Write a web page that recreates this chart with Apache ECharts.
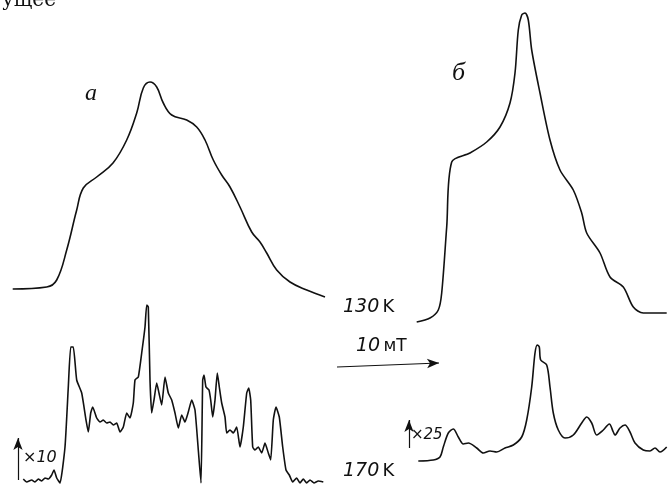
<!DOCTYPE html>
<html>
<head>
<meta charset="utf-8">
<script src="https://cdn.jsdelivr.net/npm/echarts@6/dist/echarts.min.js"></script>
<style>
  html, body { margin: 0; padding: 0; background: #fff; }
  #chart { width: 669px; height: 487px; }
</style>
</head>
<body>
<div id="chart"></div>
<script>
// поле, мТ; сигнал, отн. ед.
// а, 130 K
const fieldA130 = [1.27, 4.67, 5.67, 6.67, 7.67, 8.33, 9.67, 11.3, 12.67, 13.67, 14.33, 15.0, 15.67, 16.33, 17.17, 18.67, 19.67, 20.5, 21.33, 22.17, 23.0, 24.0, 25.17, 26.0, 26.67, 27.67, 29.0, 30.67, 32.5];
const sigA130 = [1, 3, 10, 40, 80, 102, 113, 127, 150, 177, 202, 208, 203, 187, 175, 170, 163, 150, 130, 115, 103, 83, 58, 48, 37, 20, 8, 0, -7];

// б, 130 K
const fieldB130 = [41.67, 43.0, 43.83, 44.17, 44.67, 45.17, 47.0, 48.67, 50.0, 51.0, 51.5, 51.83, 52.17, 52.5, 52.83, 53.17, 54.0, 55.0, 56.0, 57.33, 58.17, 58.67, 60.0, 61.0, 62.33, 63.33, 64.33, 66.67];
const sigB130 = [-9, -5, 3, 20, 86, 151, 160, 171, 186, 210, 240, 283, 298, 300, 293, 263, 220, 173, 143, 123, 100, 80, 60, 36, 26, 6, 0, 0];

// а, 170 K (x10)
const fieldA170 = [2.33, 2.67, 3.17, 3.5, 3.83, 4.17, 4.5, 4.83, 5.17, 5.4, 5.67, 6.0, 6.5, 6.83, 7.07, 7.33, 7.67, 8.17, 8.6, 8.83, 9.07, 9.27, 9.67, 10.0, 10.33, 10.67, 11.0, 11.33, 11.67, 12.0, 12.33, 12.67, 13.0, 13.33, 13.5, 13.83, 14.17, 14.5, 14.67, 14.83, 15.0, 15.17, 15.4, 15.67, 15.9, 16.17, 16.5, 16.83, 17.17, 17.5, 17.83, 18.17, 18.5, 18.83, 19.17, 19.5, 19.83, 20.1, 20.27, 20.4, 20.6, 20.9, 21.07, 21.27, 21.5, 21.73, 21.93, 22.17, 22.5, 22.67, 23.0, 23.33, 23.67, 24.0, 24.33, 24.67, 24.87, 25.07, 25.27, 25.5, 25.83, 26.17, 26.5, 26.83, 27.07, 27.33, 27.6, 27.93, 28.27, 28.6, 28.93, 29.27, 29.67, 30.0, 30.33, 30.67, 31.0, 31.4, 31.83, 32.33];
const sigA170 = [2, -1, 1, -1, 2, 0, 3, 2, 6, 11, 3, -2, 34, 94, 134, 134, 101, 88, 61, 49, 68, 74, 63, 59, 61, 58, 59, 56, 58, 49, 54, 68, 63, 78, 101, 104, 128, 154, 176, 174, 101, 68, 81, 98, 88, 76, 104, 88, 81, 68, 53, 66, 59, 69, 81, 71, 31, -2, 101, 106, 94, 91, 81, 64, 81, 108, 94, 78, 64, 48, 51, 48, 54, 34, 54, 88, 93, 81, 34, 31, 34, 28, 38, 28, 21, 61, 74, 64, 34, 11, 6, -1, 3, -2, 2, -2, 1, -2, 0, -1];

// б, 170 K (x25)
const fieldB170 = [41.83, 43.33, 44.0, 44.33, 44.83, 45.33, 45.83, 46.33, 46.83, 47.67, 48.33, 49.0, 49.67, 50.5, 51.33, 52.17, 52.67, 53.17, 53.5, 53.73, 53.93, 54.07, 54.67, 55.0, 55.33, 55.83, 56.5, 57.33, 58.17, 58.67, 59.17, 59.67, 60.33, 60.93, 61.33, 61.5, 62.0, 62.5, 63.0, 63.5, 64.33, 65.0, 65.5, 66.0, 66.67];
const sigB170 = [-11, -10, -7, 3, 17, 21, 13, 6, 7, 2, -3, -1, -2, 2, 5, 13, 30, 63, 97, 105, 103, 90, 85, 63, 37, 20, 12, 15, 27, 33, 27, 15, 20, 26, 18, 15, 22, 25, 18, 7, 0, -1, 2, -2, 3];

const chart = echarts.init(document.getElementById('chart'));

function pts(f, s, base) {
    return f.map((x, i) => [x, s[i] + base]);
}

const lineStyle = { color: '#111', width: 1.6 };
const txt = '"DejaVu Sans", sans-serif';

function spectrum(name, f, s, base, smooth) {
    return {
        name: name,
        type: 'line',
        data: pts(f, s, base),
        smooth: smooth,
        showSymbol: false,
        lineStyle: lineStyle,
        silent: true
    };
}

const arrowLine = {
    symbol: ['none', 'arrow'],
    symbolSize: [7, 12],
    silent: true,
    label: { show: false },
    lineStyle: { color: '#111', width: 1.2, type: 'solid' }
};

const option = {
    backgroundColor: '#fff',
    animation: false,
    grid: { left: 0, right: 0, top: 0, bottom: 0 },
    xAxis: { type: 'value', min: 0, max: 66.9, show: false },
    yAxis: { type: 'value', min: 0, max: 487, show: false },
    series: [
        spectrum('а 130 K', fieldA130, sigA130, 197, 0.4),
        spectrum('б 130 K', fieldB130, sigB130, 174, 0.3),
        spectrum('а 170 K', fieldA170, sigA170, 6, 0.15),
        Object.assign(spectrum('б 170 K', fieldB170, sigB170, 37, 0.3), {
            markLine: Object.assign({}, arrowLine, {
                data: [
                    // шкала 10 мТ
                    [{ coord: [33.7, 120] }, { coord: [43.9, 124] }],
                    // стрелки усиления
                    [{ coord: [1.8, 7] }, { coord: [1.8, 49] }],
                    [{ coord: [40.9, 39] }, { coord: [40.9, 67] }]
                ]
            })
        })
    ],
    graphic: [
        { type: 'text', left: 2, top: -9, style: { text: 'ущее', font: '20px "DejaVu Serif", serif', fill: '#111' } },
        { type: 'text', left: 85, top: 82, style: { text: 'а', font: 'italic 24px "Liberation Serif", serif', fill: '#111' } },
        { type: 'text', left: 452, top: 60, style: { text: 'б', font: 'italic 26px "Liberation Serif", serif', fill: '#111' } },
        { type: 'text', left: 343, top: 298, style: {
            text: '{n|130} {k|K}',
            rich: { n: { font: 'italic 19px ' + txt, fill: '#111' }, k: { font: '18px ' + txt, fill: '#111' } }
        } },
        { type: 'text', left: 356, top: 337, style: {
            text: '{n|10} {k|мТ}',
            rich: { n: { font: 'italic 19px ' + txt, fill: '#111' }, k: { font: '17px ' + txt, fill: '#111' } }
        } },
        { type: 'text', left: 343, top: 462, style: {
            text: '{n|170} {k|K}',
            rich: { n: { font: 'italic 19px ' + txt, fill: '#111' }, k: { font: '18px ' + txt, fill: '#111' } }
        } },
        { type: 'text', left: 23, top: 450, style: { text: '×10', font: 'italic 16px ' + txt, fill: '#111' } },
        { type: 'text', left: 411, top: 428, style: { text: '×25', font: 'italic 15px ' + txt, fill: '#111' } }
    ]
};

chart.setOption(option);
window.addEventListener('resize', () => chart.resize());
</script>
</body>
</html>
